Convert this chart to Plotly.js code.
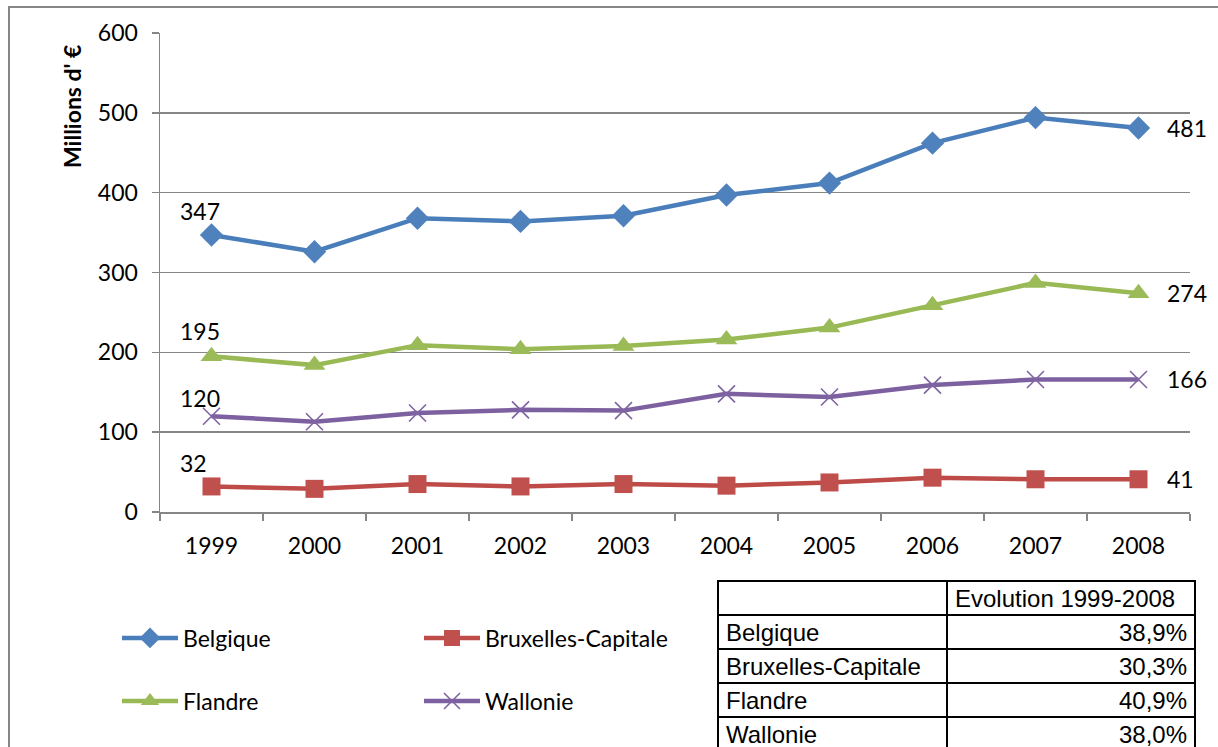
<!DOCTYPE html>
<html>
<head>
<meta charset="utf-8">
<script src="https://cdn.plot.ly/plotly-3.0.1.min.js"></script>
<style>
  html, body { margin: 0; padding: 0; background: #ffffff; overflow: hidden; }
  #chart { width: 1218px; height: 770px; }
</style>
</head>
<body>
<div id="chart"></div>
<script>
// Dépenses annuelles par région, en millions d'euros
var years = ['1999', '2000', '2001', '2002', '2003', '2004', '2005', '2006', '2007', '2008'];
var belgique = [347, 326, 368, 364, 371, 397, 412, 462, 494, 481];
var bruxelles = [32, 29, 35, 32, 35, 33, 37, 43, 41, 41];
var flandre = [195, 184, 209, 204, 208, 216, 231, 259, 287, 274];
var wallonie = [120, 113, 124, 128, 127, 148, 144, 159, 166, 166];

// Tableau d'évolution 1999-2008
var tableHeader = ['', 'Evolution 1999-2008'];
var tableRegions = ['Belgique', 'Bruxelles-Capitale', 'Flandre', 'Wallonie'];
var tableEvolution = ['38,9%', '30,3%', '40,9%', '38,0%'];

var yTitle = "Millions d' €";

// Geometry helpers (pixels -> paper fractions)
var W = 1218, H = 770;
var M = { l: 160, r: 18, t: 33, b: 0 };
var PW = W - M.l - M.r, PH = H - M.t - M.b;
function px(x) { return (x - M.l) / PW; }
function py(y) { return (H - M.b - y) / PH; }

var FONT = 'Lato, "Open Sans", sans-serif';
var TFONT = '"Liberation Sans", Arial, sans-serif';
var GREY = '#868686';

var series = [
  { name: 'Belgique', y: belgique, line: '#4A7EBB', fill: '#4F81BD', symbol: 'diamond', size: 18, legend: 'legend', first: 24 },
  { name: 'Bruxelles-Capitale', y: bruxelles, line: '#BE4B48', fill: '#C0504D', symbol: 'square', size: 18, legend: 'legend2', first: 23 },
  { name: 'Flandre', y: flandre, line: '#98B954', fill: '#9BBB59', symbol: 'triangle-up', size: 19, legend: 'legend3', first: 25 },
  { name: 'Wallonie', y: wallonie, line: '#7D60A0', fill: '#8064A2', symbol: 'x-thin', size: 17, legend: 'legend4', first: 18 }
];

var traces = series.map(function (s) {
  var marker = { symbol: s.symbol, size: s.size, color: s.fill };
  if (s.symbol === 'x-thin') marker.line = { color: s.fill, width: 1.6 };
  else marker.line = { width: 0 };
  return {
    type: 'scatter', mode: 'lines+markers', name: s.name,
    x: years, y: s.y, legend: s.legend,
    line: { color: s.line, width: 4.5 },
    marker: marker,
    hoverinfo: 'skip'
  };
});

// Evolution table
traces.push({
  type: 'table',
  domain: { x: [px(718), px(1195)], y: [0, py(581)] },
  columnwidth: [229, 248],
  header: {
    values: tableHeader,
    align: ['left', 'left'],
    height: 34,
    fill: { color: '#ffffff' },
    line: { color: '#000000', width: 2 },
    font: { family: TFONT, size: 24, color: '#000000' }
  },
  cells: {
    values: [tableRegions, tableEvolution],
    align: ['left', 'right'],
    height: 34,
    fill: { color: '#ffffff' },
    line: { color: '#000000', width: 2 },
    font: { family: TFONT, size: 24, color: '#000000' }
  }
});

// Value labels on the first and last point of each series
var annotations = [];
series.forEach(function (s) {
  var n = s.y.length;
  annotations.push({
    x: 0, y: s.y[0], xref: 'x', yref: 'y', text: String(s.y[0]),
    showarrow: false, xanchor: 'left', yanchor: 'middle', xshift: -34, yshift: s.first,
    font: { family: FONT, size: 23, color: '#000000' }
  });
  annotations.push({
    x: n - 1, y: s.y[n - 1], xref: 'x', yref: 'y', text: String(s.y[n - 1]),
    showarrow: false, xanchor: 'left', yanchor: 'middle', xshift: 26, yshift: 0,
    font: { family: FONT, size: 23, color: '#000000' }
  });
});
annotations.push({
  xref: 'paper', yref: 'paper', x: px(72), y: py(107), text: '<b>' + yTitle + '</b>',
  textangle: -90, showarrow: false, xanchor: 'center', yanchor: 'middle',
  font: { family: FONT, size: 23, color: '#000000' }
});

function legendAt(x, y) {
  return {
    x: px(x), y: py(y), xanchor: 'left', yanchor: 'middle',
    bgcolor: 'rgba(0,0,0,0)', borderwidth: 0, itemwidth: 56,
    font: { family: FONT, size: 23, color: '#000000' },
    itemclick: false, itemdoubleclick: false
  };
}

var layout = {
  width: W, height: H,
  margin: M,
  paper_bgcolor: '#ffffff', plot_bgcolor: '#ffffff',
  font: { family: FONT, size: 23, color: '#000000' },
  xaxis: {
    type: 'category', domain: [0, 1030 / PW], range: [-0.5, 9.5],
    tickson: 'boundaries', ticks: 'outside', ticklen: 7, tickwidth: 1.5, tickcolor: GREY,
    showline: true, linecolor: GREY, linewidth: 1.5, showgrid: false, zeroline: false,
    ticklabelstandoff: 13,
    tickfont: { family: FONT, size: 23, color: '#000000' }
  },
  yaxis: {
    domain: [py(512), 1], range: [0, 600], tick0: 0, dtick: 100,
    ticks: 'outside', ticklen: 7, tickwidth: 1.5, tickcolor: GREY,
    showline: true, linecolor: GREY, linewidth: 1.5,
    showgrid: true, gridcolor: GREY, gridwidth: 1.5, zeroline: false,
    ticklabelstandoff: 9,
    tickfont: { family: FONT, size: 23, color: '#000000' }
  },
  showlegend: true,
  legend: legendAt(117, 638),
  legend2: legendAt(419, 638),
  legend3: legendAt(117, 701),
  legend4: legendAt(419, 701),
  annotations: annotations,
  shapes: [{
    type: 'rect', xref: 'paper', yref: 'paper', layer: 'above',
    x0: px(9), y0: py(7), x1: px(1240), y1: py(800),
    line: { color: GREY, width: 2 }, fillcolor: 'rgba(0,0,0,0)'
  }]
};

Plotly.newPlot('chart', traces, layout, { displayModeBar: false, staticPlot: true });
</script>
</body>
</html>
